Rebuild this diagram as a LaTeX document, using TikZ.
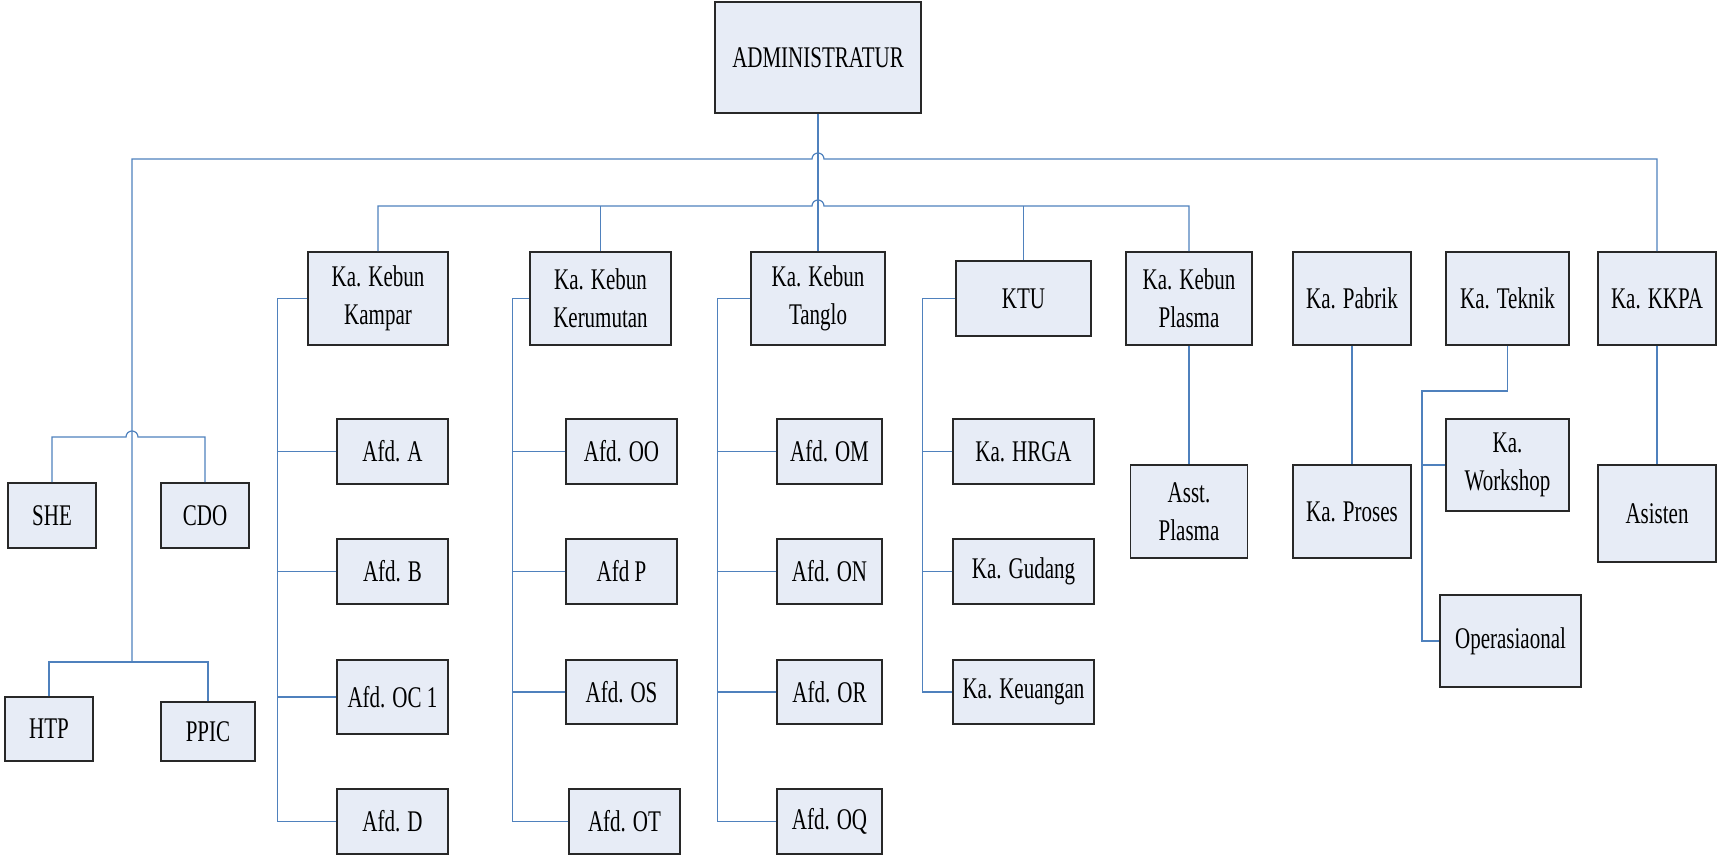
\documentclass[tikz,border=0pt]{standalone}
\usepackage{fontspec}
\setmainfont[FakeStretch=0.7]{Liberation Serif}
\usepackage{tikz}
\usetikzlibrary{calc, positioning}

\definecolor{linkblue}{RGB}{79,129,189}
\definecolor{boxfill}{RGB}{231,236,246}
\definecolor{boxline}{RGB}{40,40,40}

\tikzset{
  orgbox/.style={draw=boxline, fill=boxfill, line width=1.5pt, inner sep=0pt, align=center,
    text=black, font=\fontsize{30}{38}\selectfont},
  link/.style={draw=linkblue, line width=1.2pt},
}

\begin{document}
\begin{tikzpicture}[x=1pt,y=1pt,yscale=-1,xscale=1]
		\useasboundingbox (0,0) rectangle (1717,858);

		% Administratur
		\node[orgbox, minimum width=206pt, minimum height=111pt] (admin) at (818,57.5) {ADMINISTRATUR};

		% staff on the left
		\node[orgbox, minimum width=88pt, minimum height=65pt] (she) at (52,515.5) {SHE};
		\node[orgbox, minimum width=88pt, minimum height=65pt] (cdo) at (205,515.5) {CDO};
		\node[orgbox, minimum width=88pt, minimum height=64pt] (htp) at (49,729) {HTP};
		\node[orgbox, minimum width=94pt, minimum height=59pt] (ppic) at (208,731.5) {PPIC};

		% heads row
		\node[orgbox, minimum width=140pt, minimum height=93pt] (kampar) at (378,298.5) {Ka. Kebun\\Kampar};
		\node[orgbox, minimum width=141pt, minimum height=93pt] (kerumutan) at (600.5,298.5) {Ka. Kebun\\Kerumutan};
		\node[orgbox, minimum width=134pt, minimum height=93pt] (tanglo) at (818,298.5) {Ka. Kebun\\Tanglo};
		\node[orgbox, minimum width=135pt, minimum height=75pt] (ktu) at (1023.5,298.5) {KTU};
		\node[orgbox, minimum width=126pt, minimum height=93pt] (plasma) at (1189,298.5) {Ka. Kebun\\Plasma};
		\node[orgbox, minimum width=118pt, minimum height=93pt] (pabrik) at (1352,298.5) {Ka. Pabrik};
		\node[orgbox, minimum width=123pt, minimum height=93pt] (teknik) at (1507.5,298.5) {Ka. Teknik};
		\node[orgbox, minimum width=118pt, minimum height=93pt] (kkpa) at (1657,298.5) {Ka. KKPA};

		% Kampar
		\node[orgbox, minimum width=111pt, minimum height=65pt] (afdA) at (392.5,451.5) {Afd. A};
		\node[orgbox, minimum width=111pt, minimum height=65pt] (afdB) at (392.5,571.5) {Afd. B};
		\node[orgbox, minimum width=111pt, minimum height=74pt] (afdOC) at (392.5,697) {Afd. OC 1};
		\node[orgbox, minimum width=111pt, minimum height=65pt] (afdD) at (392.5,821.5) {Afd. D};

		% Kerumutan
		\node[orgbox, minimum width=111pt, minimum height=65pt] (afdOO) at (621.5,451.5) {Afd. OO};
		\node[orgbox, minimum width=111pt, minimum height=65pt] (afdP) at (621.5,571.5) {Afd P};
		\node[orgbox, minimum width=111pt, minimum height=64pt] (afdOS) at (621.5,692) {Afd. OS};
		\node[orgbox, minimum width=111pt, minimum height=65pt] (afdOT) at (624.5,821.5) {Afd. OT};

		% Tanglo
		\node[orgbox, minimum width=105pt, minimum height=65pt] (afdOM) at (829.5,451.5) {Afd. OM};
		\node[orgbox, minimum width=105pt, minimum height=65pt] (afdON) at (829.5,571.5) {Afd. ON};
		\node[orgbox, minimum width=105pt, minimum height=64pt] (afdOR) at (829.5,692) {Afd. OR};
		\node[orgbox, minimum width=105pt, minimum height=65pt] (afdOQ) at (829.5,821.5) {Afd. OQ};

		% KTU
		\node[orgbox, minimum width=141pt, minimum height=65pt] (hrga) at (1023.5,451.5) {Ka. HRGA};
		\node[orgbox, minimum width=141pt, minimum height=65pt] (gudang) at (1023.5,571.5) {Ka. Gudang};
		\node[orgbox, minimum width=141pt, minimum height=64pt] (keuangan) at (1023.5,692) {Ka. Keuangan};

		% right side
		\node[orgbox, minimum width=117pt, minimum height=93pt] (asst) at (1189,511.5) {Asst.\\Plasma};
		\node[orgbox, minimum width=118pt, minimum height=93pt] (proses) at (1352,511.5) {Ka. Proses};
		\node[orgbox, minimum width=123pt, minimum height=92pt] (workshop) at (1507.5,465) {Ka.\\Workshop};
		\node[orgbox, minimum width=141pt, minimum height=92pt] (ops) at (1510.5,641) {Operasiaonal};
		\node[orgbox, minimum width=118pt, minimum height=97pt] (asisten) at (1657,513.5) {Asisten};

		% crossing points and spines
		\coordinate (hop1) at (818,159);
		\coordinate (hop2) at (818,206);
		\coordinate (hop3) at (132,437);
		\coordinate (lv) at (132,662);
		\coordinate (spKampar) at ($(kampar.west)+(-30,0)$);
		\coordinate (spKerumutan) at ($(kerumutan.west)+(-17,0)$);
		\coordinate (spTanglo) at ($(tanglo.west)+(-33,0)$);
		\coordinate (spKtu) at ($(ktu.west)+(-33,0)$);
		\coordinate (spTeknik) at (1422,391);

		% top bus
		\draw[link] (lv) |- ($(hop1)+(-6,0)$) arc[start angle=180, end angle=360, radius=6] -| (kkpa.north);
		\draw[link] (admin.south) -- (tanglo.north);
		% second bus
		\draw[link] (kampar.north) |- ($(hop2)+(-6,0)$) arc[start angle=180, end angle=360, radius=6] -| (plasma.north);
		\draw[link] (kerumutan.north) -- (kerumutan.north |- hop2);
		\draw[link] (ktu.north) -- (ktu.north |- hop2);

		% staff
		\draw[link] (she.north) |- ($(hop3)+(-6,0)$) arc[start angle=180, end angle=360, radius=6] -| (cdo.north);
		\draw[link] (htp.north) |- (lv) -| (ppic.north);

		% Kampar
		\draw[link] (kampar.west) -- (spKampar) |- (afdD.west);
		\draw[link] (afdA.west) -- (afdA.west -| spKampar);
		\draw[link] (afdB.west) -- (afdB.west -| spKampar);
		\draw[link] (afdOC.west) -- (afdOC.west -| spKampar);

		% Kerumutan
		\draw[link] (kerumutan.west) -- (spKerumutan) |- (afdOT.west);
		\draw[link] (afdOO.west) -- (afdOO.west -| spKerumutan);
		\draw[link] (afdP.west) -- (afdP.west -| spKerumutan);
		\draw[link] (afdOS.west) -- (afdOS.west -| spKerumutan);

		% Tanglo
		\draw[link] (tanglo.west) -- (spTanglo) |- (afdOQ.west);
		\draw[link] (afdOM.west) -- (afdOM.west -| spTanglo);
		\draw[link] (afdON.west) -- (afdON.west -| spTanglo);
		\draw[link] (afdOR.west) -- (afdOR.west -| spTanglo);

		% KTU
		\draw[link] (ktu.west) -- (spKtu) |- (keuangan.west);
		\draw[link] (hrga.west) -- (hrga.west -| spKtu);
		\draw[link] (gudang.west) -- (gudang.west -| spKtu);

		% right side
		\draw[link] (plasma.south) -- (asst.north);
		\draw[link] (pabrik.south) -- (proses.north);
		\draw[link] (teknik.south) |- (spTeknik) |- (ops.west);
		\draw[link] (workshop.west) -- (workshop.west -| spTeknik);
		\draw[link] (kkpa.south) -- (asisten.north);

	\end{tikzpicture}
\end{document}
